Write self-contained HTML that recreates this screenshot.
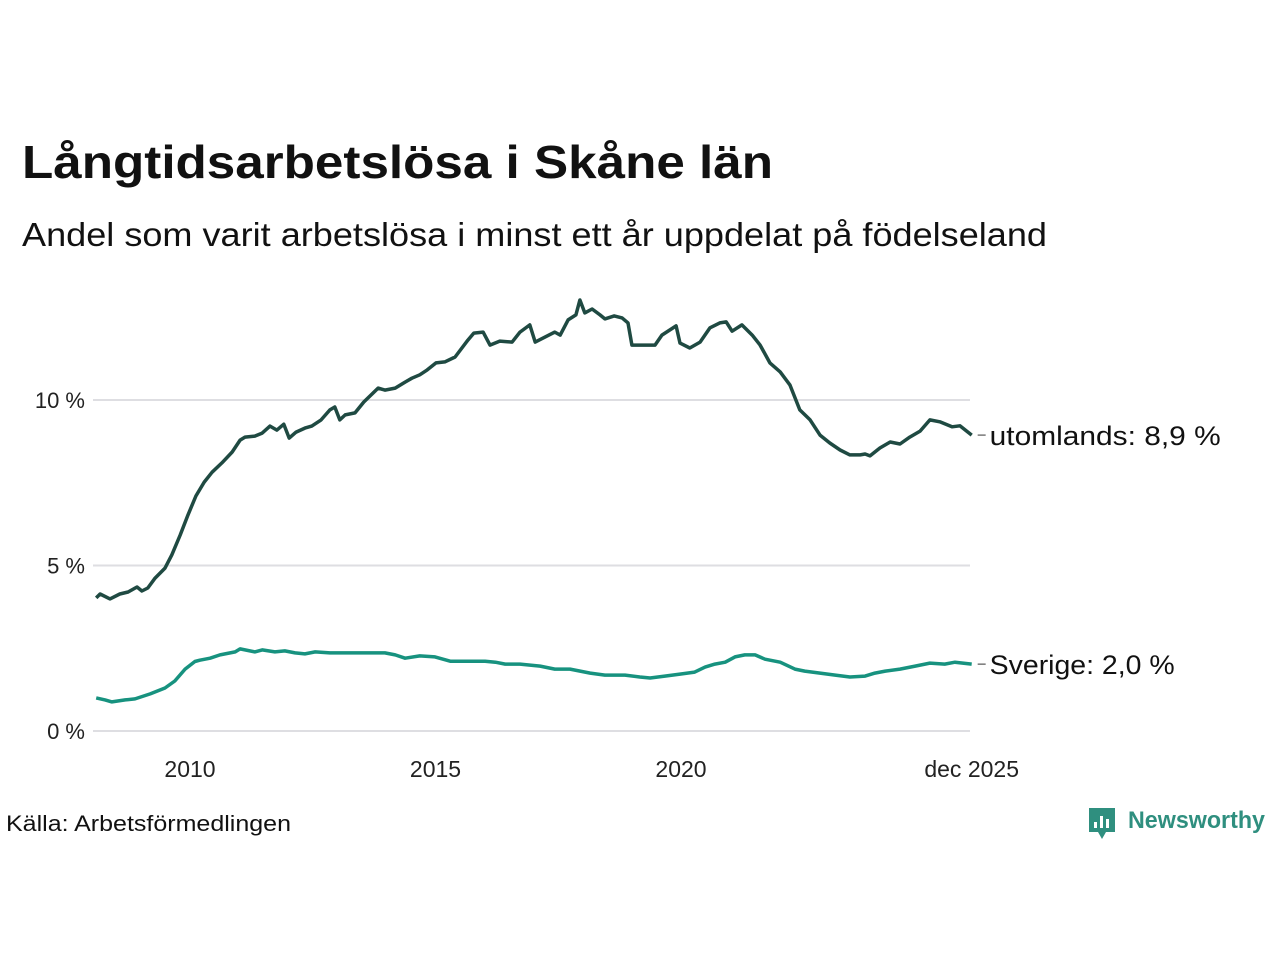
<!DOCTYPE html>
<html><head><meta charset="utf-8"><style>
body{margin:0;width:1280px;height:960px;background:#fff;font-family:"Liberation Sans","DejaVu Sans",sans-serif;color:#111;overflow:hidden}
</style></head><body>
<svg width="1280" height="960" xmlns="http://www.w3.org/2000/svg">
<text x="22" y="178" font-size="46" font-weight="bold" fill="#111" textLength="751" lengthAdjust="spacingAndGlyphs">Långtidsarbetslösa i Skåne län</text>
<text x="22" y="246" font-size="33" fill="#111" textLength="1025" lengthAdjust="spacingAndGlyphs">Andel som varit arbetslösa i minst ett år uppdelat på födelseland</text>
<g id="grid"></g><g id="lines"></g>
<text x="6" y="831" font-size="22" fill="#111" textLength="285" lengthAdjust="spacingAndGlyphs">Källa: Arbetsförmedlingen</text>
<g>
<path d="M1089 808h26v24h-9l-4 7-4-7h-9z" fill="#2f8f7f"/>
<rect x="1094" y="822" width="3" height="6" fill="#fff"/><rect x="1100" y="816" width="3" height="12" fill="#fff"/><rect x="1106" y="819" width="3" height="9" fill="#fff"/>
<text x="1128" y="828" font-size="24" font-weight="bold" fill="#2f8f7f" textLength="137" lengthAdjust="spacingAndGlyphs">Newsworthy</text>
</g>
</svg>
<script>
const yTicks=[0,5,10];
const yTickLabels=["0 %","5 %","10 %"];
const xTicks=[2010,2015,2020,2025.92];
const xTickLabels=["2010","2015","2020","dec 2025"];
const abroadYears=[2008.09,2008.17,2008.37,2008.57,2008.74,2008.92,2009.02,2009.14,2009.29,2009.49,2009.63,2009.80,2009.96,2010.12,2010.29,2010.45,2010.65,2010.86,2011.02,2011.12,2011.32,2011.47,2011.63,2011.77,2011.91,2012.02,2012.16,2012.34,2012.48,2012.67,2012.85,2012.95,2013.05,2013.16,2013.36,2013.54,2013.83,2013.97,2014.18,2014.38,2014.52,2014.68,2014.83,2015.01,2015.19,2015.40,2015.66,2015.78,2015.97,2016.11,2016.31,2016.56,2016.72,2016.92,2017.03,2017.23,2017.43,2017.54,2017.70,2017.86,2017.94,2018.04,2018.19,2018.35,2018.45,2018.64,2018.80,2018.92,2019.00,2019.47,2019.61,2019.90,2019.98,2020.18,2020.39,2020.59,2020.79,2020.92,2021.04,2021.24,2021.45,2021.61,2021.81,2022.02,2022.22,2022.42,2022.63,2022.83,2023.03,2023.24,2023.44,2023.65,2023.75,2023.85,2024.05,2024.26,2024.46,2024.66,2024.87,2025.07,2025.27,2025.52,2025.68,2025.92];
const abroadValues=[4.02,4.14,3.99,4.14,4.20,4.35,4.23,4.32,4.62,4.92,5.32,5.92,6.53,7.10,7.52,7.82,8.10,8.43,8.79,8.88,8.91,9.00,9.21,9.09,9.27,8.85,9.03,9.15,9.21,9.40,9.70,9.79,9.40,9.55,9.61,9.94,10.36,10.30,10.36,10.54,10.66,10.76,10.91,11.12,11.15,11.30,11.81,12.02,12.05,11.66,11.78,11.75,12.05,12.27,11.75,11.90,12.05,11.96,12.42,12.57,13.02,12.63,12.75,12.57,12.45,12.54,12.48,12.33,11.66,11.66,11.96,12.24,11.72,11.57,11.75,12.18,12.33,12.36,12.08,12.27,11.96,11.66,11.12,10.85,10.45,9.70,9.40,8.94,8.70,8.49,8.34,8.34,8.37,8.31,8.55,8.73,8.67,8.88,9.06,9.40,9.34,9.19,9.22,8.94];
const swedenYears=[2008.09,2008.27,2008.41,2008.68,2008.88,2009.19,2009.49,2009.69,2009.90,2010.10,2010.20,2010.41,2010.61,2010.92,2011.02,2011.32,2011.47,2011.73,2011.93,2012.14,2012.34,2012.55,2012.85,2013.16,2013.46,2013.97,2014.18,2014.38,2014.68,2014.99,2015.30,2015.70,2016.01,2016.22,2016.42,2016.72,2017.13,2017.43,2017.74,2018.15,2018.45,2018.86,2019.16,2019.37,2019.67,2019.98,2020.28,2020.49,2020.69,2020.90,2021.10,2021.30,2021.51,2021.71,2022.02,2022.32,2022.52,2022.83,2023.14,2023.44,2023.75,2023.95,2024.16,2024.46,2024.77,2025.07,2025.37,2025.58,2025.92];
const swedenValues=[1.00,0.94,0.88,0.94,0.97,1.12,1.30,1.51,1.87,2.10,2.14,2.20,2.30,2.39,2.48,2.39,2.45,2.39,2.42,2.36,2.33,2.39,2.36,2.36,2.36,2.36,2.30,2.20,2.27,2.24,2.11,2.11,2.11,2.08,2.02,2.02,1.96,1.87,1.87,1.75,1.69,1.69,1.63,1.60,1.66,1.72,1.78,1.93,2.02,2.08,2.24,2.30,2.30,2.17,2.08,1.87,1.81,1.75,1.69,1.63,1.66,1.75,1.81,1.87,1.96,2.05,2.02,2.08,2.02];
const NS="http://www.w3.org/2000/svg";
const x=t=>190+(t-2010)*49.1;
const y=v=>731-v*33.1;
function mk(tag,attrs,parent){const e=document.createElementNS(NS,tag);for(const k in attrs)e.setAttribute(k,attrs[k]);parent.appendChild(e);return e;}
const grid=document.getElementById('grid'),lines=document.getElementById('lines');
yTicks.forEach((v,i)=>{
 const l=mk('line',{x1:93,x2:970,y1:y(v),y2:y(v),stroke:'#dedee2','stroke-width':2},grid);
 
 
 const t=mk('text',{x:85,y:y(v)+8,'text-anchor':'end','font-size':22,fill:'#222'},grid);
 t.textContent=yTickLabels[i];
 
 
});
xTicks.forEach((v,i)=>{
 const t=mk('text',{x:x(v),y:777,'text-anchor':'middle','font-size':23,fill:'#222'},grid);
 t.textContent=xTickLabels[i];
 
 
});
function series(xs,vs,color,name,label,w){
 const d=xs.map((t,i)=>(i?'L':'M')+x(t).toFixed(1)+' '+y(vs[i]).toFixed(1)).join('');
 const p=mk('path',{d:d,fill:'none',stroke:color,'stroke-width':3.5,'stroke-linejoin':'round'},lines);
 
 
 const last=vs[vs.length-1],lx=x(xs[xs.length-1]);
 mk('line',{x1:lx+6,x2:lx+14,y1:y(last),y2:y(last),stroke:'#555','stroke-width':1.2},lines);
 const t=mk('text',{x:lx+18,y:y(last)+10,'font-size':27,fill:'#111',textLength:w,lengthAdjust:'spacingAndGlyphs'},lines);
 t.textContent=label+': '+last.toFixed(1).replace('.',',')+' %';
 
 
}
series(abroadYears,abroadValues,'#1f4a42','utomlands','utomlands',231);
series(swedenYears,swedenValues,'#17927f','sverige','Sverige',185);
</script>
</body></html>
